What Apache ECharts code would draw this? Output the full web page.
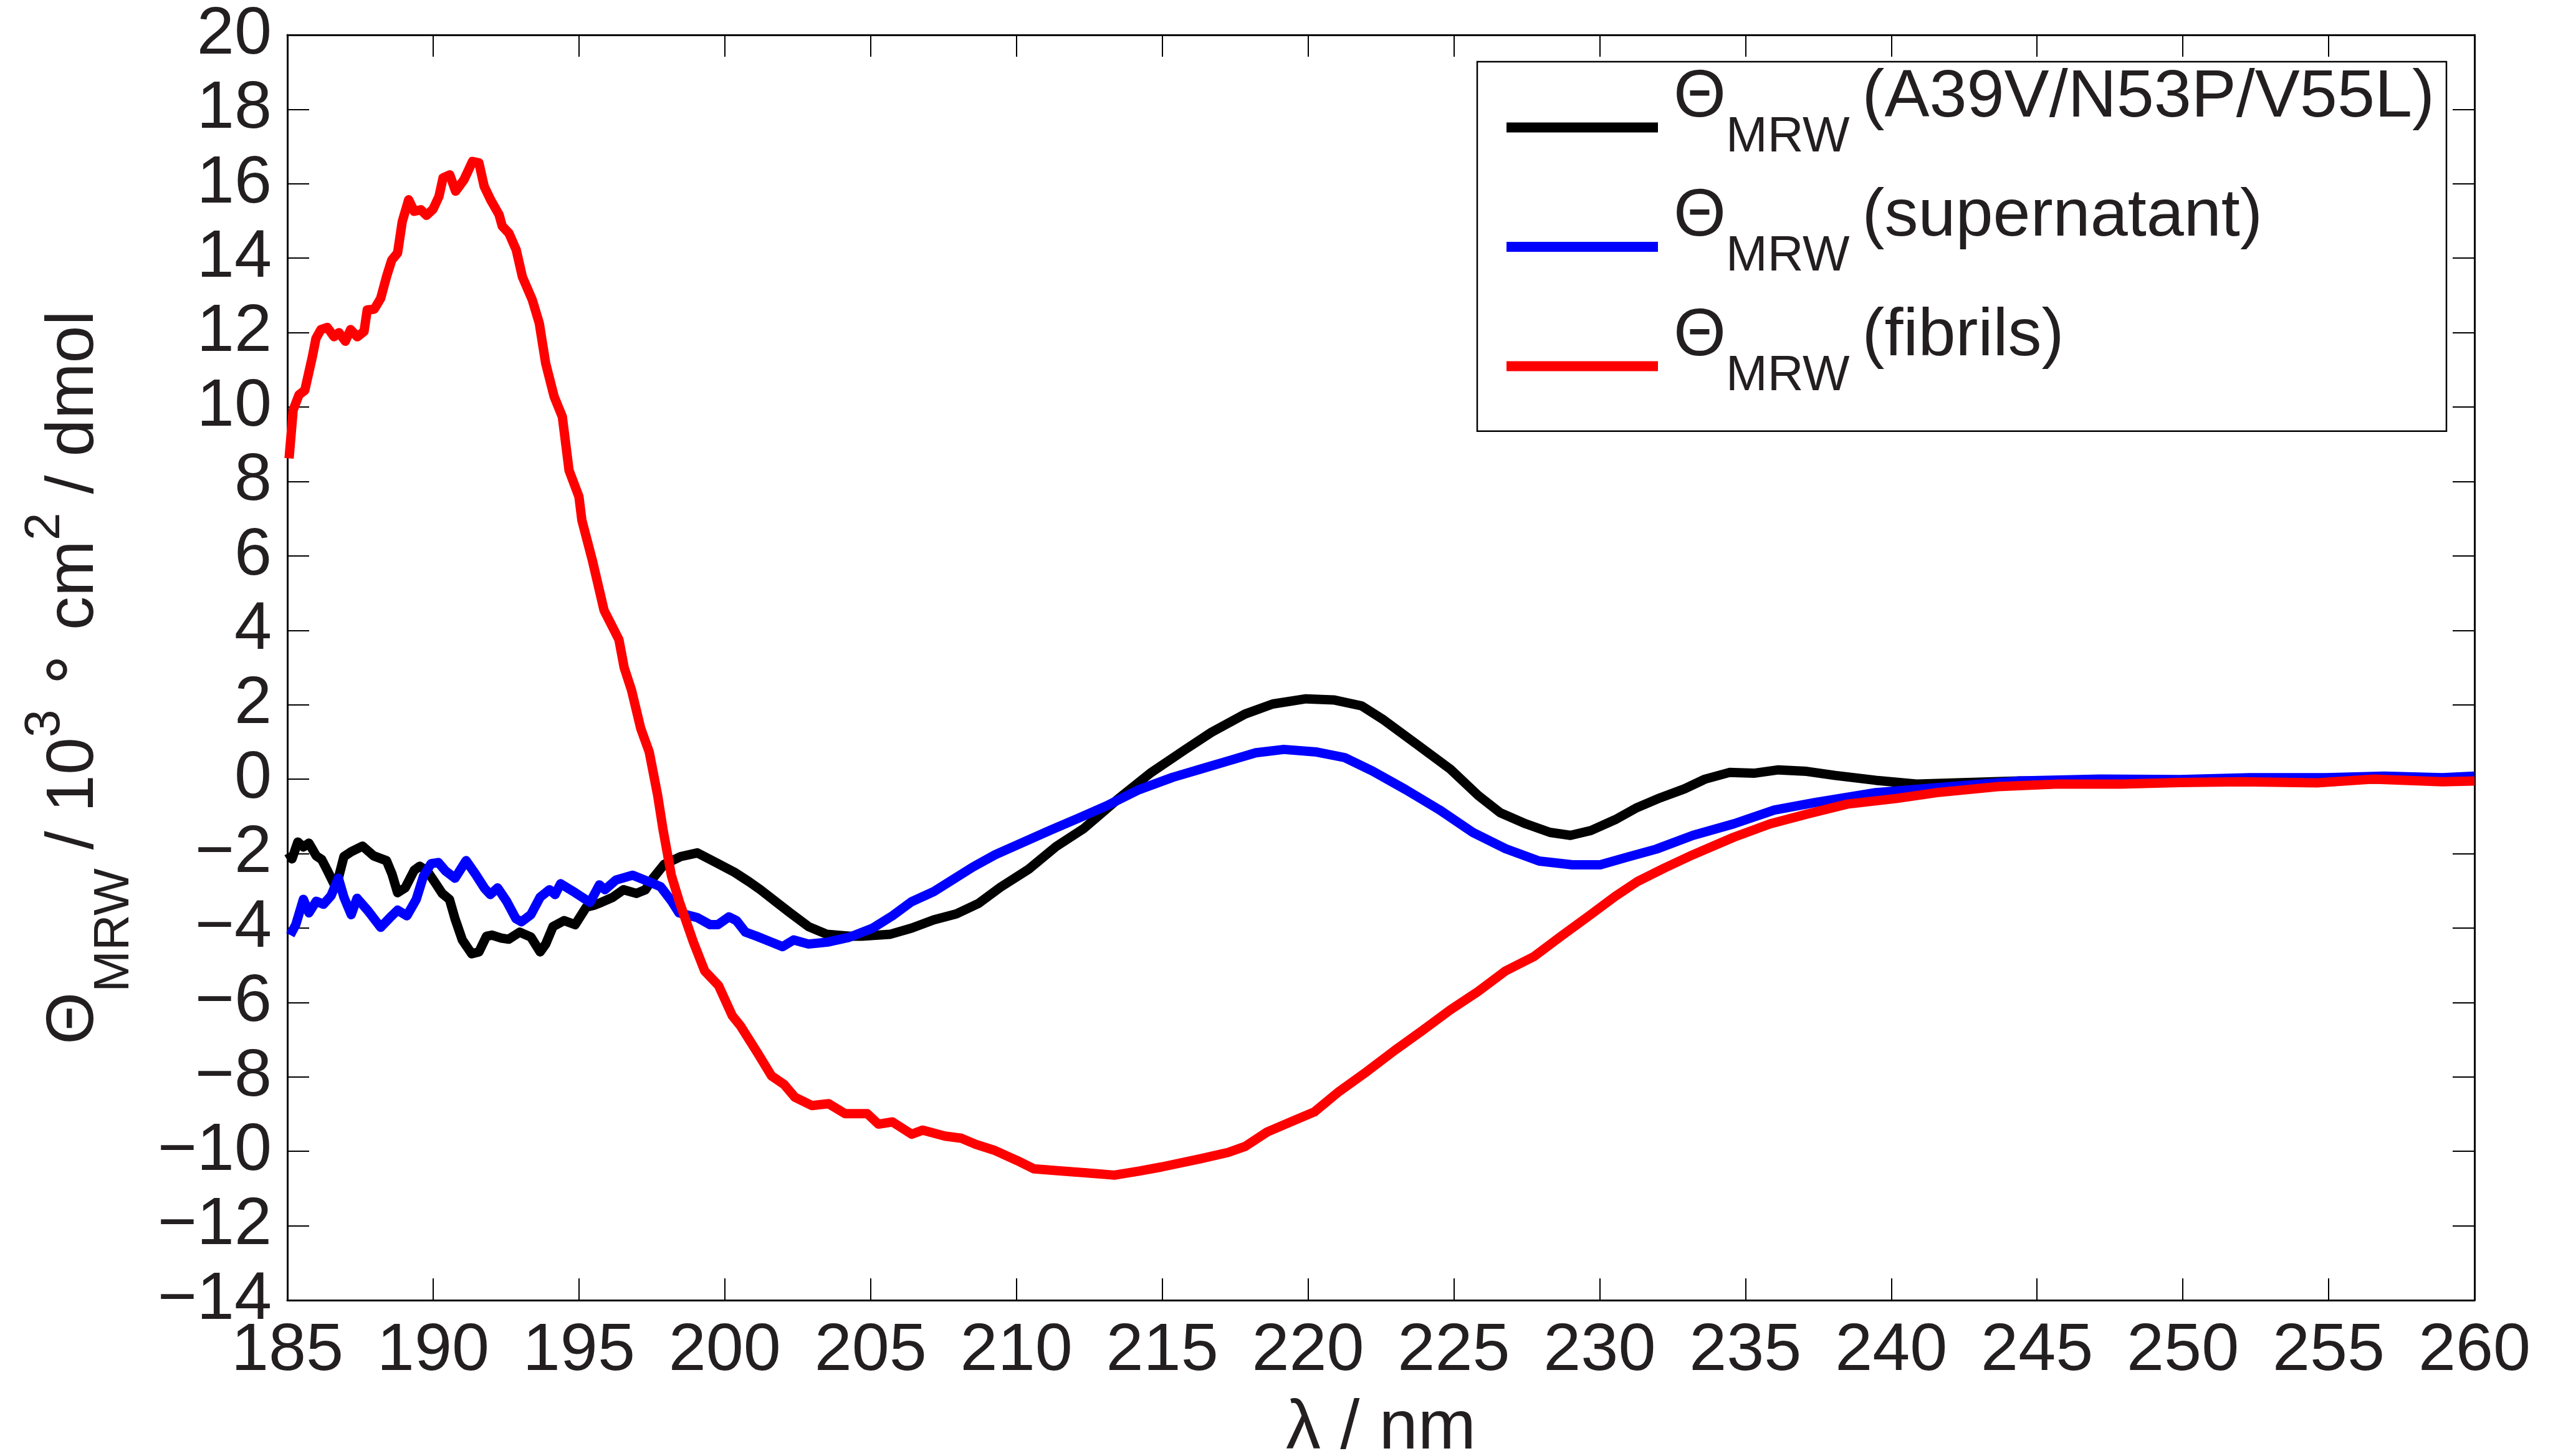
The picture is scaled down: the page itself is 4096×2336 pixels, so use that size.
<!DOCTYPE html>
<html>
<head>
<meta charset="utf-8">
<script src="https://cdn.jsdelivr.net/npm/echarts@6/dist/echarts.min.js"></script>
<style>html,body{margin:0;padding:0;background:#fff}#c{width:4096px;height:2336px}</style>
</head>
<body>
<div id="c"></div>
<script>
// ---- data (λ in nm, Θ_MRW in 10^3 deg cm^2 / dmol) ----
const seriesNames = ['A39V/N53P/V55L', 'supernatant', 'fibrils'];
const seriesColors = ['#000000', '#0000ff', '#ff0000'];
const xRange = [185, 260, 5];
const yRange = [-14, 20, 2];

const a39v = [[185.04,-1.98],[185.16,-2.14],[185.36,-1.69],[185.55,-1.82],[185.74,-1.72],[185.99,-2.06],[186.18,-2.16],[186.37,-2.45],[186.63,-2.86],[186.75,-2.66],[186.94,-2.08],[187.19,-1.95],[187.58,-1.80],[187.96,-2.06],[188.40,-2.19],[188.59,-2.55],[188.78,-3.05],[189.04,-2.92],[189.35,-2.45],[189.54,-2.34],[189.80,-2.47],[190.05,-2.76],[190.31,-3.07],[190.56,-3.23],[190.75,-3.75],[191.00,-4.32],[191.32,-4.69],[191.57,-4.64],[191.83,-4.22],[192.02,-4.19],[192.34,-4.27],[192.59,-4.30],[192.97,-4.11],[193.35,-4.24],[193.67,-4.64],[193.86,-4.43],[194.11,-3.96],[194.49,-3.80],[194.87,-3.91],[195.25,-3.44],[195.51,-3.39],[195.77,-3.31],[196.15,-3.18],[196.53,-2.97],[196.97,-3.07],[197.28,-2.97],[197.54,-2.66],[197.92,-2.29],[198.49,-2.08],[199.06,-1.98],[199.70,-2.24],[200.33,-2.50],[200.84,-2.76],[201.22,-2.97],[201.73,-3.28],[202.24,-3.59],[202.87,-3.96],[203.51,-4.17],[204.26,-4.22],[204.70,-4.22],[205.66,-4.17],[206.41,-4.00],[207.17,-3.78],[207.94,-3.62],[208.70,-3.34],[209.46,-2.90],[210.42,-2.42],[211.36,-1.81],[212.32,-1.32],[213.46,-0.55],[214.59,0.16],[215.74,0.77],[216.69,1.26],[217.84,1.75],[218.79,2.02],[219.93,2.16],[220.88,2.13],[221.84,1.97],[222.60,1.59],[223.74,0.93],[224.88,0.27],[225.84,-0.44],[226.59,-0.90],[227.47,-1.20],[228.30,-1.43],[229.00,-1.51],[229.70,-1.38],[230.53,-1.09],[231.24,-0.78],[232.08,-0.50],[232.91,-0.26],[233.61,0.00],[234.45,0.18],[235.29,0.16],[236.13,0.25],[237.10,0.21],[238.08,0.10],[239.47,-0.03],[240.87,-0.13],[242.27,-0.10],[244.36,-0.05],[247.00,-0.06],[250.00,-0.04],[253.00,-0.02],[256.00,0.00],[260.00,0.00]];

const supernatant = [[185.10,-4.19],[185.29,-3.91],[185.55,-3.23],[185.74,-3.59],[185.99,-3.28],[186.24,-3.36],[186.50,-3.13],[186.75,-2.66],[186.94,-3.17],[187.19,-3.64],[187.39,-3.20],[187.77,-3.54],[188.20,-3.98],[188.52,-3.72],[188.78,-3.52],[189.10,-3.67],[189.42,-3.23],[189.67,-2.60],[189.93,-2.27],[190.18,-2.24],[190.43,-2.47],[190.75,-2.66],[191.13,-2.19],[191.45,-2.55],[191.77,-2.94],[191.96,-3.10],[192.21,-2.92],[192.52,-3.28],[192.84,-3.75],[193.03,-3.83],[193.35,-3.64],[193.67,-3.17],[193.99,-2.97],[194.18,-3.10],[194.37,-2.81],[194.87,-3.05],[195.38,-3.31],[195.70,-2.84],[195.89,-2.97],[196.27,-2.71],[196.84,-2.58],[197.41,-2.76],[197.80,-2.89],[198.18,-3.28],[198.43,-3.59],[199.06,-3.72],[199.50,-3.91],[199.76,-3.91],[200.14,-3.70],[200.40,-3.80],[200.71,-4.11],[201.09,-4.22],[201.60,-4.38],[201.98,-4.50],[202.36,-4.32],[202.87,-4.43],[203.51,-4.38],[204.26,-4.25],[205.08,-4.00],[205.75,-3.67],[206.41,-3.29],[207.17,-3.02],[207.74,-2.74],[208.51,-2.36],[209.27,-2.03],[210.22,-1.70],[211.17,-1.37],[212.12,-1.05],[213.08,-0.72],[214.21,-0.28],[215.36,0.05],[216.31,0.27],[217.26,0.49],[218.21,0.71],[219.17,0.80],[220.30,0.73],[221.26,0.58],[222.21,0.22],[223.35,-0.28],[224.50,-0.82],[225.65,-1.43],[226.78,-1.87],[227.93,-2.20],[229.07,-2.30],[230.02,-2.30],[230.97,-2.09],[231.94,-1.88],[233.20,-1.51],[234.60,-1.20],[235.99,-0.83],[237.38,-0.63],[239.47,-0.36],[241.57,-0.23],[244.36,-0.05],[247.15,0.00],[249.90,-0.01],[252.30,0.04],[254.90,0.04],[256.90,0.08],[258.90,0.04],[260.00,0.08]];

const fibrils = [[185.06,8.62],[185.20,9.92],[185.40,10.33],[185.60,10.45],[185.86,11.36],[185.98,11.84],[186.15,12.08],[186.37,12.14],[186.60,11.89],[186.77,12.00],[186.99,11.77],[187.17,12.08],[187.40,11.89],[187.63,12.03],[187.74,12.61],[187.98,12.63],[188.20,12.92],[188.40,13.50],[188.58,13.95],[188.78,14.14],[188.94,14.98],[189.16,15.57],[189.35,15.26],[189.58,15.30],[189.77,15.15],[190.00,15.32],[190.20,15.66],[190.34,16.16],[190.57,16.24],[190.77,15.80],[191.06,16.11],[191.35,16.60],[191.57,16.56],[191.75,15.93],[191.97,15.57],[192.26,15.17],[192.37,14.86],[192.60,14.67],[192.85,14.22],[193.06,13.50],[193.40,12.88],[193.64,12.25],[193.86,11.17],[194.15,10.28],[194.43,9.74],[194.66,8.30],[195.00,7.59],[195.10,6.96],[195.46,5.88],[195.86,4.54],[196.37,3.75],[196.55,3.00],[196.80,2.40],[197.12,1.36],[197.41,0.73],[197.70,-0.44],[197.88,-1.34],[198.17,-2.59],[198.45,-3.31],[198.93,-4.39],[199.31,-5.15],[199.79,-5.55],[200.26,-6.36],[200.54,-6.63],[201.12,-7.35],[201.60,-7.97],[202.03,-8.20],[202.41,-8.55],[202.99,-8.77],[203.56,-8.72],[204.13,-8.99],[204.89,-8.99],[205.27,-9.27],[205.75,-9.21],[206.41,-9.54],[206.79,-9.43],[207.55,-9.59],[208.12,-9.65],[208.60,-9.81],[209.27,-9.98],[210.03,-10.25],[210.60,-10.47],[211.55,-10.53],[212.40,-10.58],[213.36,-10.64],[214.21,-10.53],[214.98,-10.42],[216.31,-10.20],[217.26,-10.03],[217.84,-9.87],[218.60,-9.48],[219.55,-9.16],[220.22,-8.94],[221.07,-8.39],[222.03,-7.85],[222.97,-7.29],[223.93,-6.75],[224.88,-6.20],[225.84,-5.70],[226.78,-5.15],[227.74,-4.77],[228.68,-4.22],[229.64,-3.67],[230.53,-3.15],[231.30,-2.75],[232.22,-2.39],[233.20,-2.03],[234.60,-1.56],[235.85,-1.20],[237.10,-0.94],[238.49,-0.67],[240.17,-0.52],[241.57,-0.36],[243.66,-0.20],[245.75,-0.13],[247.84,-0.13],[249.90,-0.09],[252.00,-0.07],[254.60,-0.10],[256.50,0.00],[258.90,-0.07],[260.00,-0.05]];

const seriesData = [a39v, supernatant, fibrils];

// ---- styling ----
const FONT = '"Liberation Sans", Arial, Helvetica, sans-serif';
const TXT = '#231f20';
const fmtTick = v => String(v).replace('-', '\u2212');

// every rich token is vertically centred in its line; vertical offsets come from (top pad - bottom pad) / 2
function tok(size, padTop, padBottom, padLeft, family, lh) {
  return {fontFamily: family || FONT, fontSize: size, lineHeight: lh, verticalAlign: 'middle',
          color: TXT, padding: [padTop, 0, padBottom, padLeft || 0]};
}

const yNameRich = {
  t: tok(108, 0, 0, 0, null, 108),
  m: tok(108, 0, 0, 0, null, 108),
  s: tok(80, 129.4, 0, 0, null, 108),
  p: tok(80, 0, 92.6, 0, null, 108),
  c: tok(108, 0, 43.2, 0, '"DejaVu Sans", sans-serif', 108)
};

const legendRich = {
  t: tok(108, 0, 94.8, 20, null, 100),
  s: tok(80, 32.6, 0, 0, null, 100),
  m: tok(108, 0, 94.8, 20, null, 100)
};

const axisCommon = {
  type: 'value',
  axisLine: {show: true, onZero: false, lineStyle: {color: '#000', width: 3}},
  axisTick: {show: true, inside: true, length: 35, lineStyle: {color: '#000', width: 2}},
  splitLine: {show: false}
};

const chart = echarts.init(document.getElementById('c'), null, {renderer: 'canvas', width: 4096, height: 2336});

chart.setOption({
  animation: false,
  backgroundColor: '#ffffff',
  grid: {left: 461, right: 126, top: 56, bottom: 250, containLabel: false, outerBoundsMode: 'none'},
  xAxis: [
    Object.assign({}, axisCommon, {
      position: 'bottom', min: xRange[0], max: xRange[1], interval: xRange[2],
      axisLabel: {show: true, margin: 28, fontSize: 108, fontFamily: FONT, color: TXT, formatter: fmtTick},
      name: 'λ / nm', nameLocation: 'middle', nameGap: 151,
      nameTextStyle: {fontSize: 112, fontFamily: FONT, color: TXT}
    }),
    Object.assign({}, axisCommon, {
      position: 'top', min: xRange[0], max: xRange[1], interval: xRange[2],
      axisLabel: {show: false}
    })
  ],
  yAxis: [
    Object.assign({}, axisCommon, {
      position: 'left', min: yRange[0], max: yRange[1], interval: yRange[2],
      axisLabel: {show: true, margin: 25, fontSize: 108, fontFamily: FONT, color: TXT, formatter: fmtTick},
      name: '{t|Θ}{s|MRW}{m| / 10}{p|3}{m| }{c|∘}{m| cm}{p|2}{m| / dmol}',
      nameLocation: 'middle', nameGap: 288, nameRotate: 90,
      nameTextStyle: {fontSize: 108, fontFamily: FONT, color: TXT, rich: yNameRich, padding: [0, 32, 0, 0]}
    }),
    Object.assign({}, axisCommon, {
      position: 'right', min: yRange[0], max: yRange[1], interval: yRange[2],
      axisLabel: {show: false}
    })
  ],
  legend: {
    orient: 'vertical', left: 2370, top: 99,
    padding: [4, 19, 3, 47],
    itemGap: -11.3, itemWidth: 243, itemHeight: 16, icon: 'rect',
    borderColor: '#000', borderWidth: 2.5, backgroundColor: '#ffffff',
    selectedMode: false,
    data: seriesNames,
    formatter: name => '{t|Θ}{s|MRW}{m|(' + name + ')}',
    textStyle: {fontFamily: FONT, fontSize: 108, color: TXT, rich: legendRich}
  },
  series: seriesNames.map((name, i) => ({
    name: name,
    type: 'line',
    xAxisIndex: 0, yAxisIndex: 0,
    data: seriesData[i],
    showSymbol: false, symbol: 'none',
    color: seriesColors[i],
    lineStyle: {color: seriesColors[i], width: 15, join: 'round', cap: 'butt'},
    z: 2 + i
  }))
});
</script>
</body>
</html>
